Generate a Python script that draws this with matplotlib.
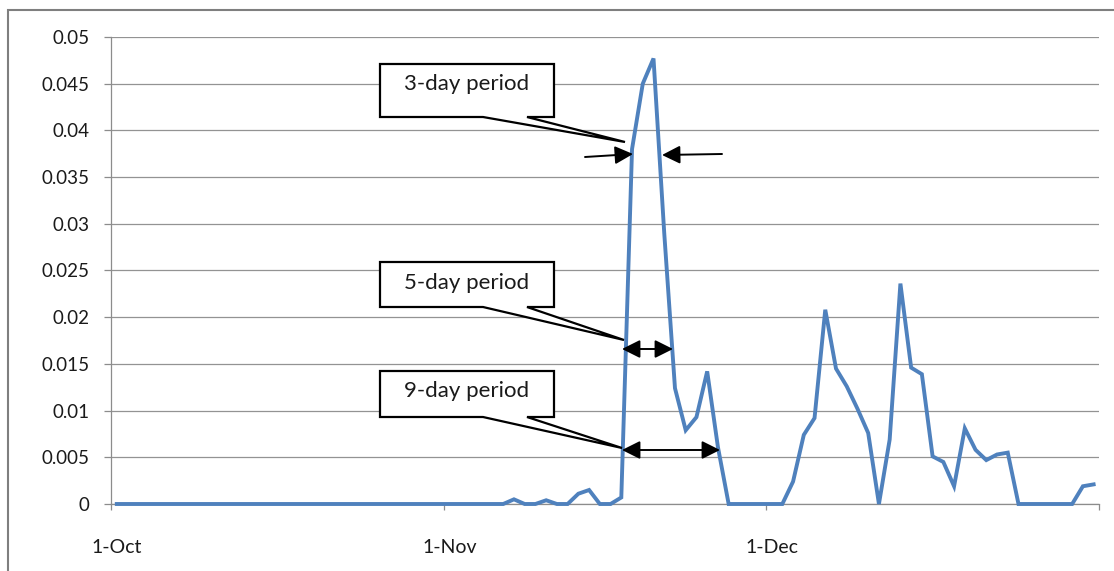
import matplotlib
matplotlib.use("Agg")
import matplotlib.pyplot as plt
from matplotlib.patches import Polygon, Rectangle, FancyArrowPatch
import numpy as np

# ---- data: daily values, 1-Oct .. 31-Dec (92 days) ----
values_oct = [0.0] * 31
values_nov = [0.0, 0.0, 0.0, 0.0, 0.0, 0.0,          # 1-6 Nov
              0.0005, 0.0, 0.0, 0.0004, 0.0, 0.0,     # 7-12
              0.0011, 0.0015, 0.0, 0.0, 0.0007,       # 13-17
              0.038, 0.045, 0.0477, 0.029, 0.0124,    # 18-22
              0.0079, 0.0093, 0.0142, 0.0061, 0.0,    # 23-27
              0.0, 0.0, 0.0]                          # 28-30
values_dec = [0.0, 0.0, 0.0024, 0.0074, 0.0092, 0.0208, 0.0145, 0.0126,
              0.0102, 0.0076, 0.0, 0.0069, 0.0236, 0.0146, 0.0139, 0.0051,
              0.0045, 0.0019, 0.0081, 0.0058, 0.0047, 0.0053, 0.0055, 0.0,
              0.0, 0.0, 0.0, 0.0, 0.0, 0.0019, 0.0021]
values = values_oct + values_nov + values_dec

month_labels = ["1-Oct", "1-Nov", "1-Dec"]
month_starts = [0, 31, 61]
axis_end = 92
y_ticks = [0, 0.005, 0.01, 0.015, 0.02, 0.025, 0.03, 0.035, 0.04, 0.045, 0.05]
y_tick_labels = ["0", "0.005", "0.01", "0.015", "0.02", "0.025", "0.03",
                 "0.035", "0.04", "0.045", "0.05"]

callouts = ["3-day period", "5-day period", "9-day period"]

# ---- figure ----
W, H = 1114, 571
plt.rcParams['font.family'] = ['Lato', 'DejaVu Sans']
fig = plt.figure(figsize=(W / 100, H / 100), dpi=100)
fig.patch.set_facecolor("white")

ax_l, ax_r, ax_t, ax_b = 111.4, 1099, 37, 504
ax = fig.add_axes([ax_l / W, 1 - ax_b / H, (ax_r - ax_l) / W, (ax_b - ax_t) / H])

x = np.arange(len(values)) + 0.5
ax.plot(x, values, color="#4F81BD", lw=2.8, solid_joinstyle="miter", zorder=3,
        clip_on=False)

ax.set_xlim(0, axis_end)
ax.set_ylim(0, 0.05)
ax.set_yticks(y_ticks)
ax.set_yticklabels(y_tick_labels)
ax.yaxis.grid(True, color="#939393", lw=0.9)
ax.set_axisbelow(True)

ax.set_xticks(month_starts + [axis_end])
ax.set_xticklabels([""] * 4)
ax.set_xticks([m + 0.5 for m in month_starts], minor=True)
ax.set_xticklabels(month_labels, minor=True)
ax.tick_params(axis="x", which="minor", length=0, pad=25, labelsize=14,
               labelcolor="#1a1a1a")
ax.tick_params(axis="x", which="major", length=4, color="#8c8c8c", width=0.9)
ax.tick_params(axis="y", length=5, color="#8c8c8c", width=0.9, pad=11,
               labelsize=13.5, labelcolor="#1a1a1a")

for s in ["top", "right"]:
    ax.spines[s].set_visible(False)
for s in ["left", "bottom"]:
    ax.spines[s].set_color("#8c8c8c")
    ax.spines[s].set_linewidth(0.9)


def P(px, py):
    return (px / W, 1 - py / H)


# outer chart border
fig.add_artist(Rectangle(P(8, 600), 1130 / W, 590 / H, transform=fig.transFigure,
                         fill=False, edgecolor="#7f7f7f", lw=1.5))

# callout boxes with wedge pointers
boxes = [
    (380, 554, 64, 117, (625, 142), 84),
    (380, 554, 262, 307, (624, 340), 283),
    (380, 554, 371, 417, (622, 448), 391),
]
for label, (x0, x1, y0, y1, tip, ty) in zip(callouts, boxes):
    pts = [P(x0, y0), P(x1, y0), P(x1, y1), P(527, y1), P(*tip), P(483, y1), P(x0, y1)]
    fig.add_artist(Polygon(pts, closed=True, transform=fig.transFigure,
                           facecolor="white", edgecolor="black", lw=1.6, zorder=5))
    fig.text(*P((x0 + x1) / 2, ty), label, ha="center", va="center",
             fontsize=16, color="#1a1a1a", zorder=6)


def arrow(p0, p1, style):
    fig.add_artist(FancyArrowPatch(P(*p0), P(*p1), transform=fig.transFigure,
                                   arrowstyle=style, mutation_scale=1,
                                   color="black", lw=1.4, zorder=6,
                                   shrinkA=0, shrinkB=0))


head = "-|>,head_length=11,head_width=5.5"
dhead = "<|-|>,head_length=11,head_width=5.5"
arrow((585, 157), (633, 154), head)
arrow((722, 154), (662, 155), head)
arrow((622, 349), (673, 349), dhead)
arrow((622, 450), (720, 450), dhead)

fig.savefig("out.png", dpi=100)
